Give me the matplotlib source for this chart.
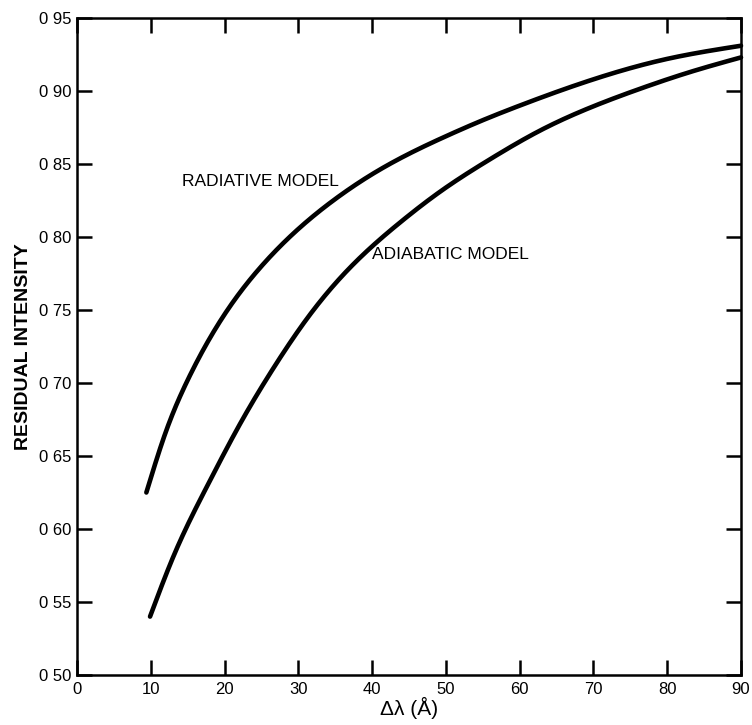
import matplotlib
matplotlib.use("Agg")
import matplotlib.pyplot as plt
import numpy as np

# Data
rad_x = [9.4, 12, 15, 20, 25, 30, 35, 40, 45, 50, 55, 60, 70, 80, 90]
rad_y = [0.625, 0.666, 0.702, 0.747, 0.780, 0.8055, 0.826, 0.843, 0.857, 0.869, 0.880, 0.890, 0.908, 0.922, 0.931]
adi_x = [9.9, 13.05, 17.6, 22.1, 26.6, 31.6, 37.0, 43.8, 49.2, 55.9, 62.8, 69.5, 76.3, 83.1, 90.0]
adi_y = [0.540, 0.581, 0.629, 0.672, 0.710, 0.747, 0.779, 0.810, 0.831, 0.853, 0.873, 0.8885, 0.9015, 0.913, 0.923]

x_ticks = [0, 10, 20, 30, 40, 50, 60, 70, 80, 90]
y_ticks = [0.50, 0.55, 0.60, 0.65, 0.70, 0.75, 0.80, 0.85, 0.90, 0.95]
y_tick_labels = ["0 50", "0 55", "0 60", "0 65", "0 70", "0 75", "0 80", "0 85", "0 90", "0 95"]

plt.rcParams['font.family'] = ['Liberation Sans', 'DejaVu Sans']

fig = plt.figure(figsize=(7.52, 7.25), dpi=100)
ax = fig.add_axes([77/752, 1-675/725, (741-77)/752, (675-18)/725])

def spline(xs, ys, n=600):
    # natural cubic spline drawn through the read points
    xs = np.asarray(xs, float); ys = np.asarray(ys, float)
    k = len(xs); h = np.diff(xs)
    A = np.zeros((k, k)); b = np.zeros(k)
    A[0, 0] = 1; A[-1, -1] = 1
    for i in range(1, k-1):
        A[i, i-1] = h[i-1]; A[i, i] = 2*(h[i-1]+h[i]); A[i, i+1] = h[i]
        b[i] = 6*((ys[i+1]-ys[i])/h[i] - (ys[i]-ys[i-1])/h[i-1])
    M = np.linalg.solve(A, b)
    xx = np.linspace(xs[0], xs[-1], n)
    idx = np.clip(np.searchsorted(xs, xx) - 1, 0, k-2)
    x0 = xs[idx]; x1 = xs[idx+1]; hh = x1 - x0
    a = (x1-xx)/hh; c = (xx-x0)/hh
    yy = a*ys[idx] + c*ys[idx+1] + ((a**3-a)*M[idx] + (c**3-c)*M[idx+1])*hh**2/6
    return xx, yy

sx, sy = spline(rad_x, rad_y)
ax.plot(sx, sy, color='black', lw=3.3, solid_capstyle='round', clip_on=False)
sx, sy = spline(adi_x, adi_y)
ax.plot(sx, sy, color='black', lw=3.3, solid_capstyle='round', clip_on=False)

ax.set_xlim(0, 90)
ax.set_ylim(0.50, 0.95)
ax.set_xticks(x_ticks)
ax.set_xticklabels([str(v) for v in x_ticks], fontsize=12)
ax.set_yticks(y_ticks)
ax.set_yticklabels(y_tick_labels, fontsize=12)
ax.tick_params(direction='in', length=11, width=1.8, top=True, right=True, pad=4)
ax.tick_params(axis='x', pad=5)
for s in ax.spines.values():
    s.set_linewidth(1.8)

ax.text(14.2, 0.838, "RADIATIVE MODEL", fontsize=12.5, va='center', ha='left')
ax.text(40.0, 0.788, "ADIABATIC MODEL", fontsize=12.5, va='center', ha='left')

ax.set_ylabel("RESIDUAL INTENSITY", fontsize=14, fontweight='bold', labelpad=5)
ax.set_xlabel("Δλ (Å)", fontsize=15, labelpad=0)

fig.savefig("out.png", dpi=100)
